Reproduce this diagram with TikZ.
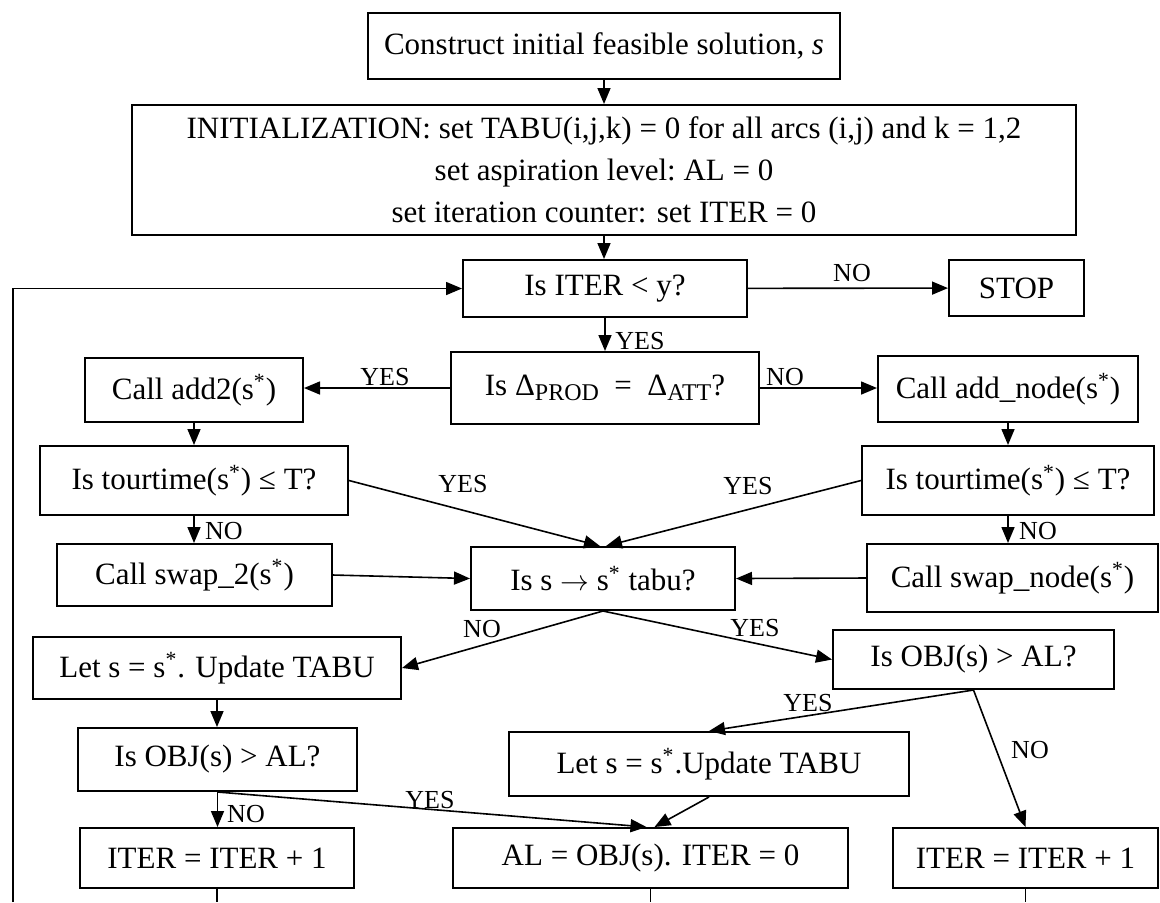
\documentclass[tikz,border=0pt]{standalone}
\usepackage{fontspec}
\setmainfont{Liberation Serif}
\usetikzlibrary{arrows.meta}
\newcommand{\lowsub}[1]{\raisebox{-0.35ex}{\fontsize{12}{12}\selectfont #1}}
\newcommand{\st}{s\textsuperscript{*}}
\begin{document}
\begin{tikzpicture}[x=0.5pt,y=-0.5pt,
  box/.style={draw, line width=1pt, inner sep=0pt, align=center,
              font=\fontsize{15.5}{19}\selectfont},
  sz/.style n args={2}{minimum width=#1*0.5pt, minimum height=#2*0.5pt},
  arr/.style={line width=0.8pt, -{Triangle[length=8pt,width=6.5pt]}},
  ln/.style={line width=0.8pt},
  lbl/.style={font=\fontsize{13}{15}\selectfont, inner sep=0pt}]
\useasboundingbox (0,0) rectangle (1160,902);

% process and decision boxes
\node[box, sz={472}{66}]  (b1)    at (604,46)     {Construct initial feasible solution, \textit{s}};
\node[box, sz={944}{130}] (b2)    at (604,170)
  {INITIALIZATION: set TABU(i,j,k) = 0 for all arcs (i,j) and k = 1,2\\[2pt]
   set aspiration level:\ AL = 0\\[2pt]
   set iteration counter: set ITER = 0};
\node[box, sz={284}{57}]  (iter)  at (605,288.5)  {Is ITER < y?};
\node[box, sz={135}{56}]  (stop)  at (1016.5,288) {STOP};
\node[box, sz={308}{72}]  (delta) at (605,388)    {Is Δ\lowsub{PROD}\ \ =\ \ Δ\lowsub{ATT}?};
\node[box, sz={218}{64}]  (add2)  at (194,390)    {Call add2(\st)};
\node[box, sz={260}{66}]  (addn)  at (1008,389)   {Call add\_node(\st)};
\node[box, sz={308}{69}]  (ttL)   at (194,480.5)  {Is tourtime(\st) ≤ T?};
\node[box, sz={292}{69}]  (ttR)   at (1008,480.5) {Is tourtime(\st) ≤ T?};
\node[box, sz={275}{62}]  (sw2)   at (194.5,575)  {Call swap\_2(\st)};
\node[box, sz={291}{68}]  (swn)   at (1012.5,578) {Call swap\_node(\st)};
\node[box, sz={264}{63}]  (tabu)  at (603,578.5)  {Is s \ensuremath{\rightarrow} \st\ tabu?};
\node[box, sz={368}{62}]  (letL)  at (217,668)    {Let s = \st. Update TABU};
\node[box, sz={281}{59}]  (objR)  at (973.5,659.5){Is OBJ(s) > AL?};
\node[box, sz={279}{63}]  (objL)  at (217.5,759.5){Is OBJ(s) > AL?};
\node[box, sz={400}{64}]  (letM)  at (709,764)    {Let s = \st.Update TABU};
\node[box, sz={274}{60}]  (iterL) at (217,858)    {ITER = ITER + 1};
\node[box, sz={395}{60}]  (al)    at (650.5,858)  {AL = OBJ(s). ITER = 0};
\node[box, sz={265}{60}]  (iterR) at (1025.5,858) {ITER = ITER + 1};

% main flow
\draw[arr] (b1.south) -- (b1.south |- b2.north);
\draw[arr] (b2.south) -- (b2.south |- iter.north);
\draw[arr] (iter) -- (stop);
\draw[arr] (iter.south) -- (iter.south |- delta.north);
\draw[arr] (delta.west) -- (delta.west -| add2.east);
\draw[arr] (delta.east) -- (delta.east -| addn.west);
\draw[arr] (add2.south) -- (add2.south |- ttL.north);
\draw[arr] (addn.south) -- (addn.south |- ttR.north);
\draw[arr] (ttL.east) -- ([xshift=-1.5pt]tabu.north);
\draw[arr] (ttR.west) -- ([xshift=1.5pt]tabu.north);
\draw[arr] (ttL.south) -- (ttL.south |- sw2.north);
\draw[arr] (ttR.south) -- (ttR.south |- swn.north);
\draw[arr] (sw2.east) -- (tabu.west);
\draw[arr] (swn.west) -- (tabu.east);
\draw[arr] (tabu.south) -- (letL.east);
\draw[arr] (tabu.south) -- (objR.west);
\draw[arr] (letL.south) -- (letL.south |- objL.north);
\draw[arr] (objR.south) -- (letM.north);
\draw[arr] (objR.south) -- (iterR.north);
\draw[arr] (objL.south) -- (objL.south |- iterL.north);
\draw[arr] (objL.south) -- ([xshift=-2pt]al.north);
\draw[arr] (letM.south) -- ([xshift=2pt]al.north);

% return path back to the iteration test
\coordinate (loopB) at (13,902);
\draw[arr] (loopB) |- (iter.west);
\draw[ln] (iterL.south) -- (iterL.south |- loopB);
\draw[ln] (al.south) -- (al.south |- loopB);
\draw[ln] (iterR.south) -- (iterR.south |- loopB);

% branch labels
\node[lbl] (l1)  at (852,273) {NO};
\node[lbl] (l2)  at (640,341) {YES};
\node[lbl] (l3)  at (385,377) {YES};
\node[lbl] (l4)  at (785,377) {NO};
\node[lbl] (l5)  at (463,484) {YES};
\node[lbl] (l6)  at (748,486) {YES};
\node[lbl] (l7)  at (224,531) {NO};
\node[lbl] (l8)  at (1038,531) {NO};
\node[lbl] (l9)  at (482,629) {NO};
\node[lbl] (l10) at (755,628) {YES};
\node[lbl] (l11) at (808,703) {YES};
\node[lbl] (l12) at (1030,750) {NO};
\node[lbl] (l13) at (246,814) {NO};
\node[lbl] (l14) at (430,800) {YES};
\end{tikzpicture}
\end{document}
